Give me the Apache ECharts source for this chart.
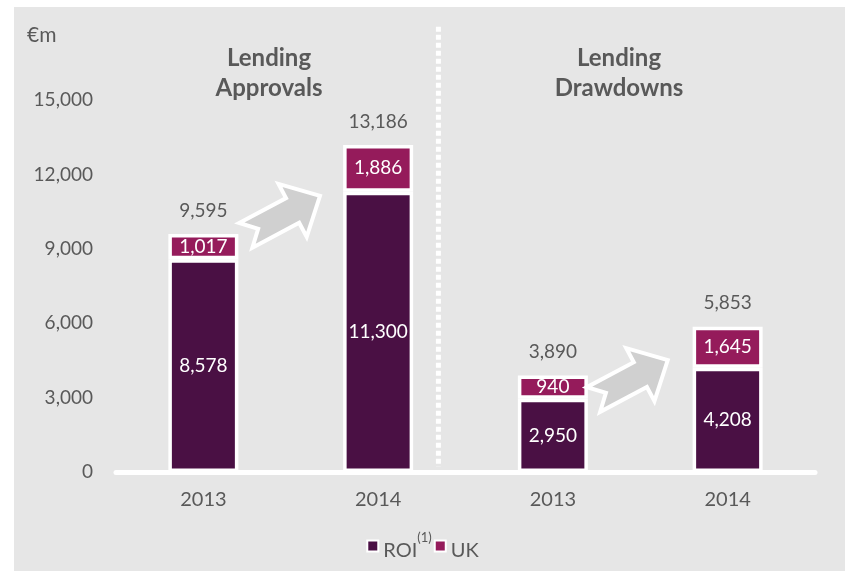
<!DOCTYPE html>
<html><head><meta charset="utf-8">
<script src="https://cdn.jsdelivr.net/npm/echarts@6/dist/echarts.min.js"></script>
<style>
html,body{margin:0;padding:0;background:#fff;}
#bg{position:absolute;left:14px;top:7px;width:831px;height:564px;background:#e6e6e6;}
#c{position:absolute;left:0;top:0;width:845px;height:571px;}
</style>
</head><body><div id="bg"></div><div id="c"></div>
<script>
// ---- data ----
const categories = ['2013', '2014', '2013', '2014'];
const roiValues = [8578, 11300, 2950, 4208];
const ukValues = [1017, 1886, 940, 1645];
const totalValues = [9595, 13186, 3890, 5853];
const yTicks = { min: 0, max: 15000, interval: 3000 };
const groupTitles = ['Lending\nApprovals', 'Lending\nDrawdowns'];
const unitLabel = '€m';

// ---- decorations (category index, value) ----
const arrowAnchors = [[0.45, 10320], [2.44, 3700]];
const separatorAt = 1.345;

const TXT = '#595959';
const FONT = 'Lato';
const fmt = v => Number(v).toLocaleString('en-US');

const chart = echarts.init(document.getElementById('c'), null, { renderer: 'canvas' });
const option = {
  backgroundColor: 'transparent',
  animation: false,
  textStyle: { fontFamily: FONT },
  title: [
    { text: unitLabel, left: 22, top: 20, textStyle: { color: TXT, fontSize: 21, fontWeight: 'normal', fontFamily: FONT } },
    { text: groupTitles[0], left: 264, top: 38, textAlign: 'center', textStyle: { color: TXT, fontSize: 24, fontWeight: 'bold', lineHeight: 30, fontFamily: FONT } },
    { text: groupTitles[1], left: 614, top: 38, textAlign: 'center', textStyle: { color: TXT, fontSize: 24, fontWeight: 'bold', lineHeight: 30, fontFamily: FONT } }
  ],
  legend: {
    data: ['ROI', 'UK'],
    left: 'center',
    top: 526,
    icon: 'rect',
    itemWidth: 11,
    itemHeight: 11,
    itemGap: 2,
    itemStyle: { borderColor: '#fff', borderWidth: 2 },
    formatter: n => n === 'ROI' ? '{n|ROI}{s|(1)}' : '{n|UK}',
    textStyle: {
      color: TXT, fontFamily: FONT,
      rich: {
        n: { fontSize: 20, color: TXT, fontFamily: FONT, lineHeight: 30, verticalAlign: 'bottom' },
        s: { fontSize: 13, color: TXT, fontFamily: FONT, verticalAlign: 'top' }
      }
    }
  },
  grid: { left: 116, right: 30, top: 100, bottom: 99, containLabel: false },
  xAxis: {
    type: 'category',
    data: categories,
    axisLine: { lineStyle: { color: '#fff', width: 5 } },
    axisTick: { show: false },
    axisLabel: { color: TXT, fontSize: 20, margin: 18, fontFamily: FONT }
  },
  yAxis: {
    type: 'value',
    min: yTicks.min, max: yTicks.max, interval: yTicks.interval,
    axisLine: { show: false },
    axisTick: { show: false },
    splitLine: { show: false },
    axisLabel: { color: TXT, fontSize: 19, margin: 23, fontFamily: FONT, formatter: v => fmt(v) }
  },
  series: [
    {
      name: 'ROI', type: 'bar', stack: 'a', data: roiValues, barWidth: 70,
      itemStyle: { color: '#4a1044', borderColor: '#fff', borderWidth: 3.5 },
      label: { show: true, position: 'inside', color: '#fff', fontSize: 19, fontFamily: FONT, formatter: p => fmt(p.value) }
    },
    {
      name: 'UK', type: 'bar', stack: 'a', data: ukValues, barWidth: 70,
      itemStyle: { color: '#951b5b', borderColor: '#fff', borderWidth: 3.5 },
      label: { show: true, position: 'inside', color: '#fff', fontSize: 19, fontFamily: FONT, formatter: p => fmt(p.value) }
    },
    {
      name: 'Total', type: 'bar', stack: 'a', data: totalValues.map(() => 0), barWidth: 70,
      itemStyle: { color: 'transparent', borderWidth: 0 },
      label: { show: true, position: 'top', distance: 14, color: TXT, fontSize: 19, fontFamily: FONT, formatter: p => fmt(totalValues[p.dataIndex]) }
    }
  ]
};
chart.setOption(option);

function px(ci, v) {
  const i0 = Math.min(Math.floor(ci), categories.length - 2);
  const f = ci - i0;
  const a = chart.convertToPixel({ gridIndex: 0 }, [i0, v]);
  const b = chart.convertToPixel({ gridIndex: 0 }, [i0 + 1, v]);
  return [a[0] + f * (b[0] - a[0]), a[1]];
}
const arrowPts = [[-41, -14], [12, -14], [12, -30], [43, 0], [12, 30], [12, 14], [-41, 14], [-27, 0]];
const graphics = arrowAnchors.map(([ci, v]) => {
  const p = px(ci, v);
  return {
    type: 'polygon', x: p[0], y: p[1], rotation: 28 * Math.PI / 180, z: 10,
    shape: { points: arrowPts },
    style: { fill: '#d0d0d0', stroke: '#fff', lineWidth: 4, lineJoin: 'miter' }
  };
});
const sTop = px(separatorAt, 17950);
const sBot = px(separatorAt, 200);
graphics.push({
  type: 'line', z: 1,
  shape: { x1: sTop[0], y1: sTop[1], x2: sBot[0], y2: sBot[1] },
  style: { stroke: '#fff', lineWidth: 5, lineDash: [5, 3] }
});
chart.setOption({ graphic: graphics });
</script>
</body></html>
